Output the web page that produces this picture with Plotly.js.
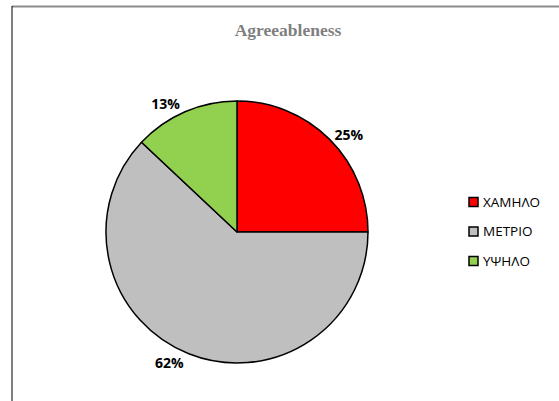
<!DOCTYPE html>
<html><head><meta charset="utf-8">
<script src="https://cdn.plot.ly/plotly-3.0.1.min.js"></script>
<style>html,body{margin:0;padding:0;background:#fff}#chart{width:559px;height:401px}</style>
</head><body><div id="chart"></div>
<script>
const categories = ["ΧΑΜΗΛΟ", "ΜΕΤΡΙΟ", "ΥΨΗΛΟ"];
const values = [25, 62, 13];
const colors = ["#FF0000", "#BFBFBF", "#92D050"];
const chartTitle = "Agreeableness";

const W = 559, H = 401;
const px = x => x / W, py = y => 1 - y / H;

const shapes = [
  {type:"line", xref:"paper", yref:"paper", x0:px(12), x1:px(559), y0:py(6.5), y1:py(6.5), line:{color:"#8c8c8c", width:2}},
  {type:"line", xref:"paper", yref:"paper", x0:px(12), x1:px(12), y0:py(6), y1:py(401), line:{color:"#000", width:1}}
];
const annotations = [];
const legY0 = 202, legStep = 29.5;
categories.forEach((c, i) => {
  const yc = legY0 + i * legStep;
  shapes.push({type:"rect", xref:"paper", yref:"paper", x0:px(469), x1:px(478), y0:py(yc+4.5), y1:py(yc-4.5),
    fillcolor: colors[i], line:{color:"#000", width:1.5}});
  annotations.push({xref:"paper", yref:"paper", x:px(481), y:py(yc), xanchor:"left", yanchor:"middle",
    text:c, showarrow:false, font:{family:"Open Sans, Noto Sans, sans-serif", size:13.5, color:"#000"}});
});

const data = [{
  type:"pie", labels:categories, values:values, sort:false, direction:"clockwise", rotation:0,
  marker:{colors:colors, line:{color:"#000", width:1.5}},
  textinfo:"percent", textposition:"outside",
  texttemplate:"%{percent:.0%}",
  outsidetextfont:{family:"Open Sans, Noto Sans, sans-serif", size:14, color:"#000", weight:"bold"},
  showlegend:false, hoverinfo:"label+percent",
  domain:{x:[(237-131)/W, (237+131)/W], y:[(169-131)/H, (169+131)/H]}
}];

const layout = {
  width:W, height:H, margin:{l:0, r:0, t:0, b:0},
  paper_bgcolor:"#fff", plot_bgcolor:"#fff", showlegend:false,
  title:{text:chartTitle, x:288/W, xanchor:"center", y:1-30/H, yanchor:"middle", xref:"paper", yref:"container",
    font:{family:"Liberation Serif, Times New Roman, serif", size:17.5, color:"#7f7f7f", weight:"bold"}},
  shapes:shapes, annotations:annotations
};
Plotly.newPlot("chart", data, layout, {displayModeBar:false, staticPlot:true});
</script></body></html>
